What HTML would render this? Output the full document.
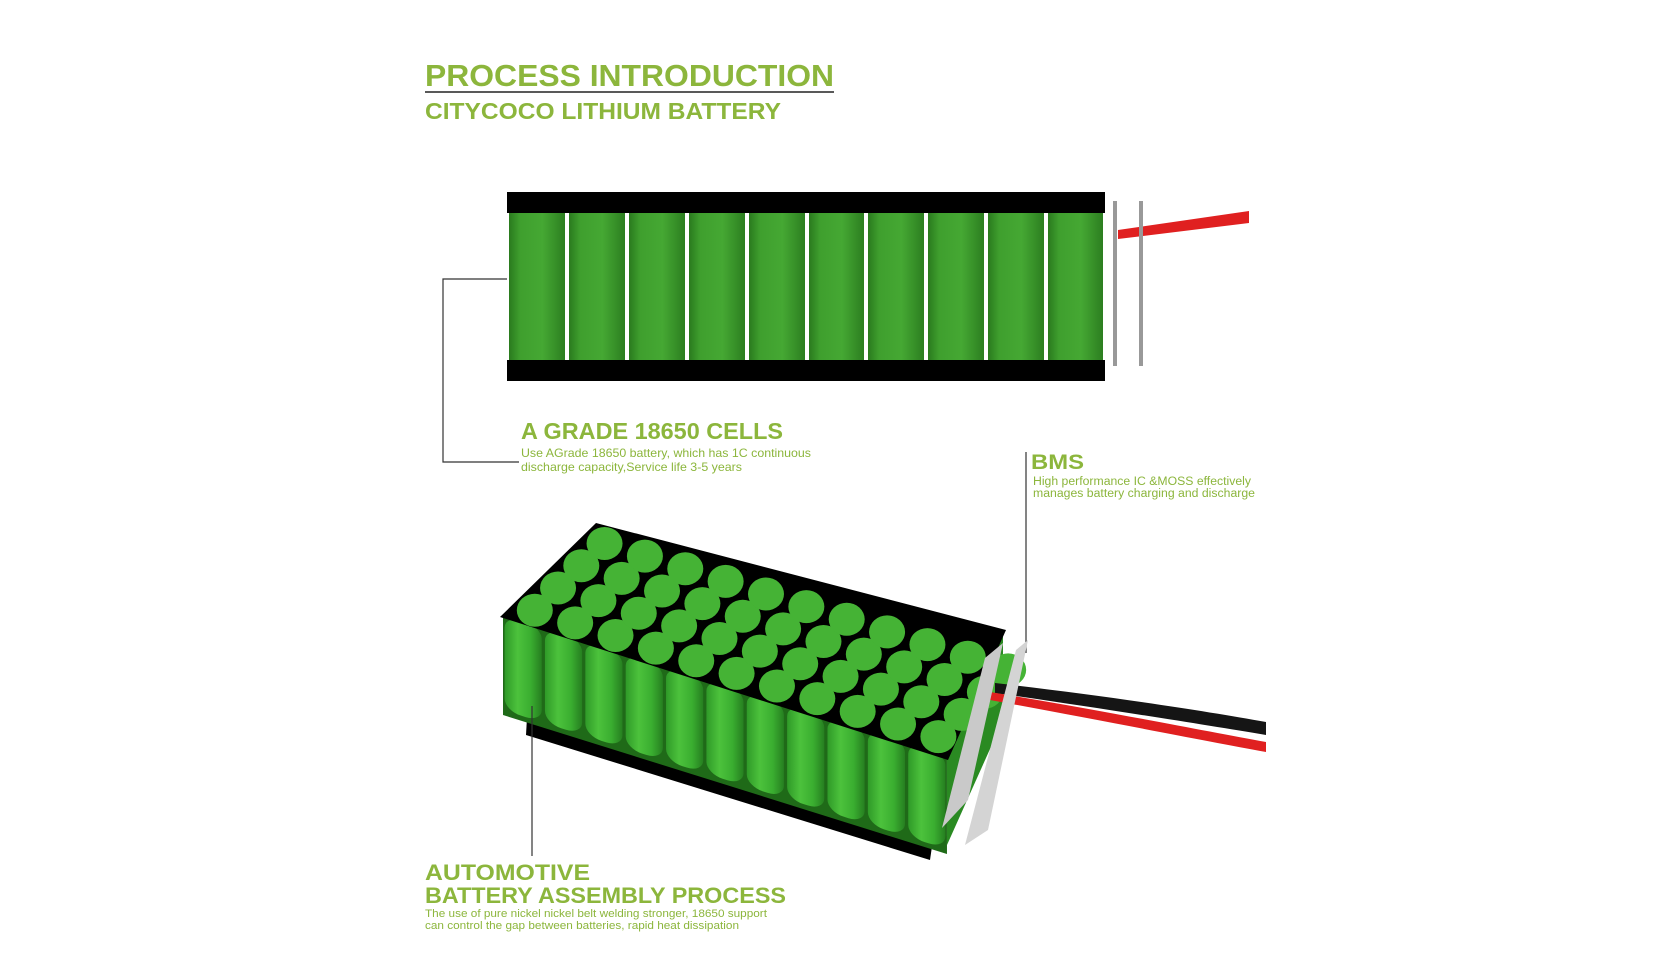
<!DOCTYPE html>
<html><head><meta charset="utf-8"><style>
html,body{margin:0;padding:0;background:#fff;width:1670px;height:960px;overflow:hidden}
svg{display:block}
text{font-family:"Liberation Sans",sans-serif;fill:#8cb63c}
.h{font-weight:bold}
</style></head><body>
<svg width="1670" height="960" viewBox="0 0 1670 960" xmlns="http://www.w3.org/2000/svg">
<defs>
<linearGradient id="cg" x1="0" x2="1" y1="0" y2="0">
<stop offset="0" stop-color="#2a7a1e"/><stop offset="0.2" stop-color="#3f9f2e"/><stop offset="0.6" stop-color="#45a833"/><stop offset="1" stop-color="#2c7e20"/>
</linearGradient>
<linearGradient id="fg" x1="0" x2="1" y1="0" y2="0">
<stop offset="0" stop-color="#2f9a28"/><stop offset="0.35" stop-color="#4cc23c"/><stop offset="0.7" stop-color="#3aae30"/><stop offset="1" stop-color="#267f20"/>
</linearGradient>
<g id="row" fill="#45b335">
<ellipse cx="0" cy="0" rx="18" ry="16.5"/><ellipse cx="40.36" cy="12.64" rx="18" ry="16.5"/><ellipse cx="80.72" cy="25.28" rx="18" ry="16.5"/><ellipse cx="121.08" cy="37.92" rx="18" ry="16.5"/><ellipse cx="161.44" cy="50.56" rx="18" ry="16.5"/><ellipse cx="201.8" cy="63.2" rx="18" ry="16.5"/><ellipse cx="242.16" cy="75.84" rx="18" ry="16.5"/><ellipse cx="282.52" cy="88.48" rx="18" ry="16.5"/><ellipse cx="322.88" cy="101.12" rx="18" ry="16.5"/><ellipse cx="363.24" cy="113.76" rx="18" ry="16.5"/><ellipse cx="403.6" cy="126.4" rx="18" ry="16.5"/>
</g>
</defs>

<text class="h" x="425" y="86" font-size="31" textLength="409" lengthAdjust="spacingAndGlyphs">PROCESS INTRODUCTION</text>
<line x1="425" y1="92" x2="834" y2="92" stroke="#222" stroke-width="1.5"/>
<text class="h" x="425" y="119" font-size="23" textLength="356" lengthAdjust="spacingAndGlyphs">CITYCOCO LITHIUM BATTERY</text>

<g>
<rect x="507" y="192" width="598" height="21" fill="#000"/>
<rect x="507" y="360" width="598" height="21" fill="#000"/>
<g fill="url(#cg)">
<rect x="509" y="213" width="56" height="147"/>
<rect x="569" y="213" width="56" height="147"/>
<rect x="629" y="213" width="56" height="147"/>
<rect x="689" y="213" width="56" height="147"/>
<rect x="749" y="213" width="56" height="147"/>
<rect x="809" y="213" width="55" height="147"/>
<rect x="868" y="213" width="56" height="147"/>
<rect x="928" y="213" width="56" height="147"/>
<rect x="988" y="213" width="56" height="147"/>
<rect x="1048" y="213" width="55" height="147"/>
</g>
<path d="M1118 230 L1249 211 L1249 223 L1118 239 Z" fill="#e02020"/>
<rect x="1113" y="201" width="4" height="165" fill="#999"/>
<rect x="1139" y="201" width="4" height="165" fill="#999"/>
</g>

<path d="M507 279 H443 V462 H519" fill="none" stroke="#333" stroke-width="1.2"/>
<text class="h" x="521" y="439" font-size="23" textLength="262" lengthAdjust="spacingAndGlyphs">A GRADE 18650 CELLS</text>
<text x="521" y="457" font-size="12" textLength="290" lengthAdjust="spacingAndGlyphs">Use AGrade 18650 battery, which has 1C continuous</text>
<text x="521" y="471" font-size="12" textLength="221" lengthAdjust="spacingAndGlyphs">discharge capacity,Service life 3-5 years</text>

<line x1="1026" y1="452" x2="1026" y2="653" stroke="#333" stroke-width="1.2"/>
<text class="h" x="1031" y="469" font-size="21" textLength="53" lengthAdjust="spacingAndGlyphs">BMS</text>
<text x="1033" y="485" font-size="11.5" textLength="218" lengthAdjust="spacingAndGlyphs">High performance IC &amp;MOSS effectively</text>
<text x="1033" y="497" font-size="11.5" textLength="222" lengthAdjust="spacingAndGlyphs">manages battery charging and discharge</text>

<g>
<path d="M528 700 L935 826 L930 860 L526 735 Z" fill="#000"/>
<g transform="matrix(40.36 12.64 0 1 503 615)">
<rect x="0" y="0" width="11" height="100" fill="#1f6a18"/>
<rect x="0.04" y="0" width="0.92" height="95" rx="0.4" ry="12" fill="url(#fg)"/>
<rect x="1.04" y="0" width="0.92" height="95" rx="0.4" ry="12" fill="url(#fg)"/>
<rect x="2.04" y="0" width="0.92" height="95" rx="0.4" ry="12" fill="url(#fg)"/>
<rect x="3.04" y="0" width="0.92" height="95" rx="0.4" ry="12" fill="url(#fg)"/>
<rect x="4.04" y="0" width="0.92" height="95" rx="0.4" ry="12" fill="url(#fg)"/>
<rect x="5.04" y="0" width="0.92" height="95" rx="0.4" ry="12" fill="url(#fg)"/>
<rect x="6.04" y="0" width="0.92" height="95" rx="0.4" ry="12" fill="url(#fg)"/>
<rect x="7.04" y="0" width="0.92" height="95" rx="0.4" ry="12" fill="url(#fg)"/>
<rect x="8.04" y="0" width="0.92" height="95" rx="0.4" ry="12" fill="url(#fg)"/>
<rect x="9.04" y="0" width="0.92" height="95" rx="0.4" ry="12" fill="url(#fg)"/>
<rect x="10.04" y="0" width="0.92" height="95" rx="0.4" ry="12" fill="url(#fg)"/>
</g>
<path d="M947 754 L1003 631 L1003 720 L947 845 Z" fill="#2a8a22"/>
<path d="M500 617 L596 523 L1006 630 L948 760 Z" fill="#000"/>
<g transform="translate(534.8 610.2)">
<use href="#row"/>
<use href="#row" x="23.25" y="-22.25"/>
<use href="#row" x="46.5" y="-44.5"/>
<use href="#row" x="69.75" y="-66.75"/>
</g>
<path d="M995 683 C1100 695 1200 710 1266 722 L1266 735 C1200 724 1100 708 995 693 Z" fill="#151515"/>
<path d="M990 692 C1100 710 1200 730 1266 742 L1266 752 C1200 740 1100 720 990 700 Z" fill="#e02020"/>
<path d="M985 658 L1003 643 L968 800 L942 828 Z" fill="#c9c9c9"/>
<path d="M1016 650 L1028 640 L988 830 L965 845 Z" fill="#d4d4d4"/>
</g>

<line x1="532" y1="706" x2="532" y2="856" stroke="#333" stroke-width="1.2"/>
<text class="h" x="425" y="880" font-size="22" textLength="165" lengthAdjust="spacingAndGlyphs">AUTOMOTIVE</text>
<text class="h" x="425" y="903" font-size="22" textLength="361" lengthAdjust="spacingAndGlyphs">BATTERY ASSEMBLY PROCESS</text>
<text x="425" y="917" font-size="11" textLength="342" lengthAdjust="spacingAndGlyphs">The use of pure nickel nickel belt welding stronger, 18650 support</text>
<text x="425" y="929" font-size="11" textLength="314" lengthAdjust="spacingAndGlyphs">can control the gap between batteries, rapid heat dissipation</text>
</svg>
</body></html>
